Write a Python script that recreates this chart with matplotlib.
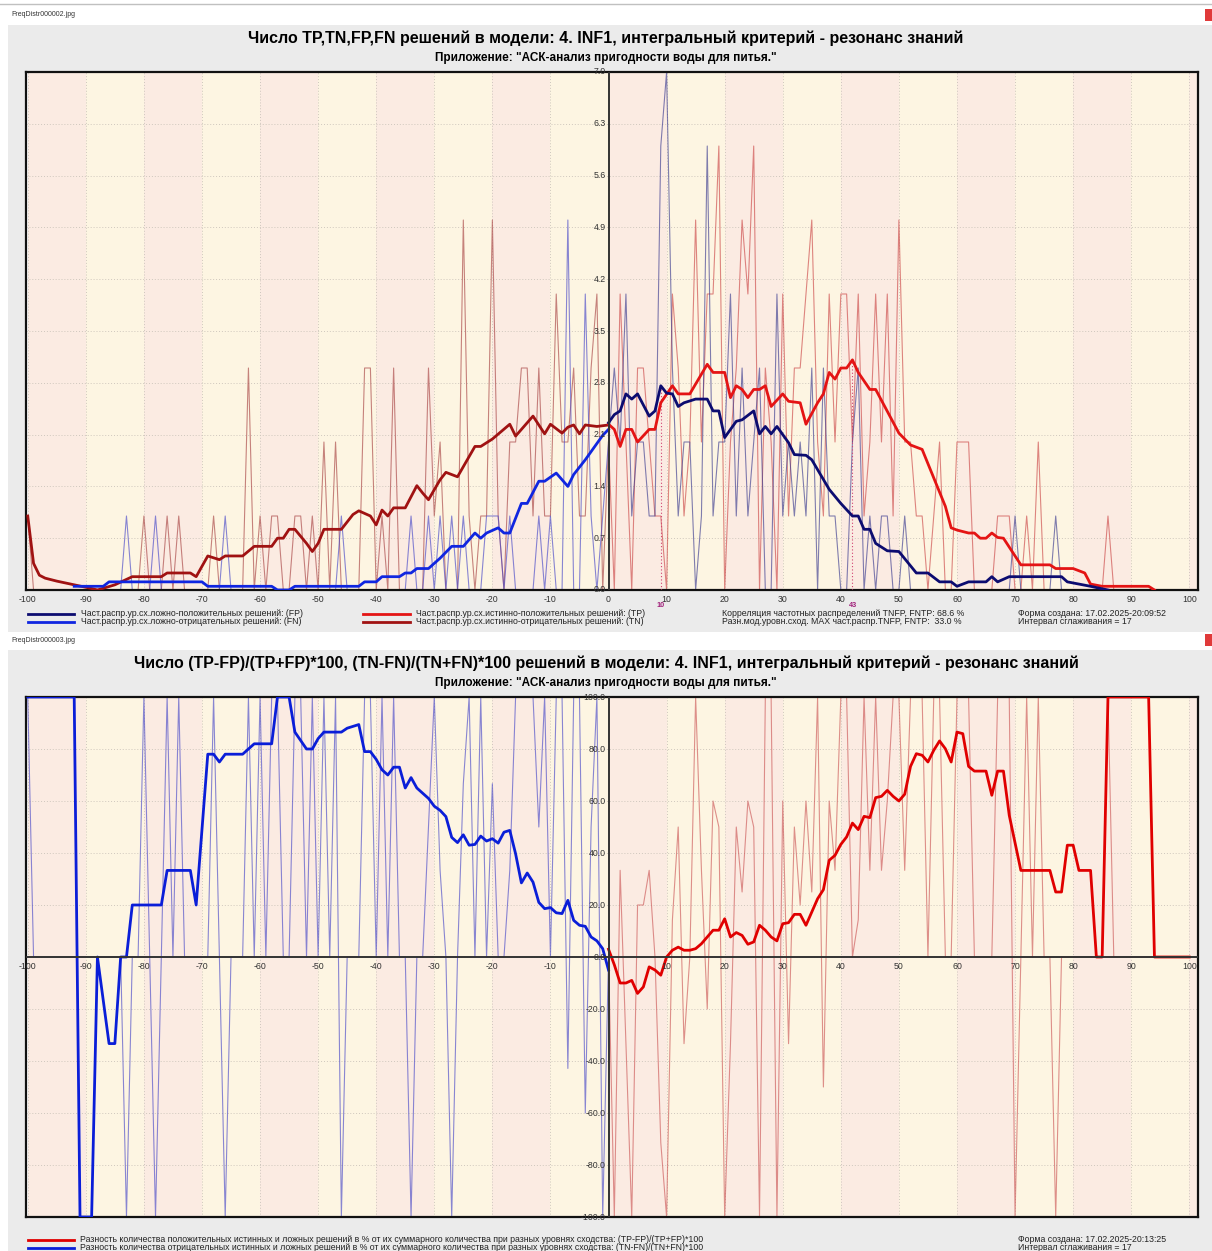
import numpy as np
import matplotlib
matplotlib.use("Agg")
import matplotlib.pyplot as plt
from matplotlib.patches import Rectangle
from matplotlib.lines import Line2D
from matplotlib import transforms

plt.rcParams["font.family"] = ["Liberation Sans", "DejaVu Sans"]

# ---------------------------------------------------------------- data
# raw frequency distributions (% of decisions) per similarity level
x_neg = np.arange(-100, 1)
x_pos = np.arange(0, 101)

tn_raw = [1, 0, 0, 0, 0, 0, 0, 0, 0, 0,
          0, 0, 0, 0, 0, 0, 0, 0, 0, 0,
          1, 0, 0, 0, 1, 0, 1, 0, 0, 0,
          0, 0, 1, 0, 0, 0, 0, 0, 3, 0,
          1, 0, 1, 1, 0, 0, 1, 1, 0, 1,
          0, 2, 0, 2, 0, 0, 0, 0, 3, 3,
          0, 1, 0, 3, 0, 0, 0, 0, 0, 3,
          1, 2, 0, 0, 0, 5, 1, 0, 1, 1,
          5, 1, 0, 2, 2, 3, 3, 1, 3, 1,
          1, 4, 2, 2, 3, 1, 1, 3, 4, 0,
          2]
fn_raw = [0, 0, 0, 0, 0, 0, 0, 0, 0, 0,
          0, 0, 0, 0, 0, 0, 0, 1, 0, 0,
          0, 0, 1, 0, 0, 0, 0, 0, 0, 0,
          0, 0, 0, 0, 1, 0, 0, 0, 0, 0,
          0, 0, 0, 0, 0, 0, 0, 0, 0, 0,
          0, 0, 0, 0, 1, 0, 0, 0, 0, 0,
          0, 0, 0, 0, 0, 0, 1, 0, 0, 1,
          0, 1, 0, 1, 0, 1, 0, 0, 0, 1,
          1, 1, 0, 1, 0, 0, 0, 0, 1, 0,
          1, 0, 0, 5, 0, 0, 4, 1, 0, 1,
          2]
tp_raw = [2, 0, 4, 2, 0, 3, 3, 2, 1, 1,
          0, 4, 3, 1, 2, 5, 2, 4, 4, 6,
          0, 2, 3, 5, 4, 6, 0, 3, 2, 0,
          4, 1, 3, 3, 4, 5, 2, 1, 4, 2,
          4, 4, 2, 4, 1, 2, 4, 2, 4, 1,
          5, 2, 2, 1, 1, 0, 1, 2, 0, 0,
          2, 2, 2, 0, 0, 0, 0, 1, 1, 1,
          0, 0, 1, 0, 2, 0, 0, 0, 0, 0,
          0, 0, 0, 0, 0, 0, 1, 0, 0, 0,
          0, 0, 0, 0, 0, 0, 0, 0, 0, 0,
          0]
fp_raw = [2, 3, 2, 4, 1, 2, 2, 1, 1, 6,
          7, 3, 1, 2, 2, 0, 1, 6, 1, 2,
          2, 4, 1, 3, 1, 2, 3, 0, 0, 4,
          1, 2, 1, 2, 1, 3, 0, 3, 1, 1,
          0, 0, 2, 3, 0, 1, 0, 1, 1, 0,
          0, 1, 0, 0, 0, 0, 0, 0, 0, 0,
          0, 0, 0, 0, 0, 0, 0, 0, 0, 0,
          1, 0, 0, 0, 0, 0, 0, 1, 0, 0,
          0, 0, 0, 0, 0, 0, 0, 0, 0, 0,
          0, 0, 0, 0, 0, 0, 0, 0, 0, 0,
          0]

# smoothed distributions (interval 17)
tn_s_x = [-100, -99, -98, -97, -95, -92, -89, -88, -85, -82, -77, -76, -72, -71, -69,
          -67, -66, -63, -61, -58, -57, -56, -55, -54, -52, -51, -50, -49, -46, -44,
          -43, -41, -40, -39, -38, -37, -35, -33, -32, -31, -29, -28, -26, -23, -22,
          -20, -17, -16, -13, -11, -10, -8, -7, -6, -5, -4, -2, 0]
tn_s_y = [1.0, 0.36, 0.2, 0.16, 0.12, 0.07, 0.02, 0.0, 0.07, 0.18, 0.18, 0.23, 0.23, 0.18, 0.46,
          0.41, 0.46, 0.46, 0.59, 0.59, 0.70, 0.70, 0.82, 0.82, 0.63, 0.52, 0.63, 0.82, 0.82, 1.02,
          1.07, 1.00, 0.88, 1.08, 1.00, 1.11, 1.11, 1.41, 1.31, 1.22, 1.49, 1.59, 1.53, 1.94, 1.94,
          2.04, 2.24, 2.08, 2.35, 2.11, 2.24, 2.12, 2.2, 2.23, 2.11, 2.23, 2.21, 2.23]
fn_s_x = [-92, -87, -86, -70, -69, -58, -57, -55, -54, -43, -42, -40, -39, -36, -35,
          -34, -33, -31, -29, -27, -25, -23, -22, -21, -19, -18, -17, -15, -14, -12,
          -11, -9, -7, -6, -4, -1, 0]
fn_s_y = [0.05, 0.05, 0.11, 0.11, 0.05, 0.05, 0.0, 0.0, 0.05, 0.05, 0.11, 0.11, 0.18, 0.18, 0.23,
          0.23, 0.29, 0.29, 0.43, 0.59, 0.59, 0.77, 0.70, 0.77, 0.84, 0.77, 0.77, 1.17, 1.17, 1.47,
          1.47, 1.58, 1.40, 1.56, 1.76, 2.09, 2.17]
tp_s_x = [0, 1, 2, 3, 4, 5, 7, 8, 9, 11, 12, 14, 17, 18, 20, 21, 22, 23, 24, 25, 26, 27, 28,
          30, 31, 33, 34, 36, 37, 38, 39, 40, 41, 42, 43, 45, 46, 50, 52, 54, 58, 59, 60, 62,
          63, 64, 65, 66, 67, 68, 71, 76, 77, 80, 82, 83, 85, 93, 94]
tp_s_y = [2.24, 2.17, 1.94, 2.17, 2.17, 2.0, 2.17, 2.17, 2.53, 2.76, 2.65, 2.65, 3.05, 2.94, 2.94,
          2.60, 2.76, 2.71, 2.60, 2.71, 2.71, 2.76, 2.48, 2.65, 2.55, 2.53, 2.24, 2.53, 2.65, 2.94,
          2.85, 3.0, 3.0, 3.11, 2.94, 2.71, 2.71, 2.12, 1.96, 1.90, 1.13, 0.84, 0.81, 0.77, 0.77,
          0.70, 0.70, 0.77, 0.71, 0.70, 0.34, 0.34, 0.29, 0.29, 0.23, 0.08, 0.05, 0.05, 0.0]
fp_s_x = [0, 1, 2, 3, 4, 5, 7, 8, 9, 10, 11, 12, 13, 15, 17, 18, 19, 20, 22, 23, 25, 26, 27,
          28, 29, 31, 32, 34, 35, 38, 40, 42, 43, 44, 45, 46, 48, 50, 53, 55, 57, 59, 60, 62,
          65, 66, 67, 69, 78, 79, 83, 86]
fp_s_y = [2.26, 2.37, 2.42, 2.65, 2.58, 2.65, 2.35, 2.42, 2.76, 2.66, 2.65, 2.48, 2.53, 2.58,
          2.58, 2.42, 2.42, 2.06, 2.28, 2.30, 2.42, 2.11, 2.21, 2.11, 2.21, 1.99, 1.83, 1.82, 1.76,
          1.36, 1.17, 1.00, 1.00, 0.82, 0.82, 0.63, 0.53, 0.52, 0.23, 0.23, 0.11, 0.11, 0.05, 0.11,
          0.11, 0.18, 0.11, 0.18, 0.18, 0.11, 0.05, 0.0]
mode_labels = ["10", "43"]

# smoothed differences, %
neg_s_x = [-100, -92, -91, -89, -88, -86, -85, -84, -83, -82, -77, -76, -72, -71, -69, -68,
           -67, -66, -63, -61, -58, -57, -55, -54, -52, -51, -50, -49, -46, -45, -43, -42,
           -41, -40, -39, -38, -37, -36, -35, -34, -33, -31, -30, -29, -28, -27, -26, -25,
           -24, -23, -22, -21, -20, -19, -18, -17, -16, -15, -14, -13, -12, -11, -10, -9,
           -8, -7, -6, -5, -4, -3, -2, -1, 0]
neg_s_y = [100, 100, -100, -100, 0, -33.3, -33.3, 0, 0, 20, 20, 33.3, 33.3, 20, 78, 78,
           75, 78, 78, 82, 82, 100, 100, 86.5, 80, 80, 84, 86.5, 86.5, 88, 89.4, 79,
           79, 76, 72, 70, 73, 73, 65, 69, 65, 61, 58, 56.4, 54, 46, 44, 47,
           43, 43.3, 46.5, 44.6, 45.5, 43.8, 48, 48.7, 39.7, 28.5, 32.3, 28.8, 21, 18.6, 19, 17,
           16.7, 21.8, 14.1, 12.2, 11.8, 7.7, 6.2, 3.2, -5]
pos_s_x = [0, 1, 2, 3, 4, 5, 6, 7, 8, 9, 10, 11, 12, 13, 14, 15, 16, 17, 18, 19, 20, 21, 22,
           23, 24, 25, 26, 27, 28, 29, 30, 31, 32, 33, 34, 35, 36, 37, 38, 39, 40, 41, 42, 43,
           44, 45, 46, 47, 48, 49, 50, 51, 52, 53, 54, 55, 56, 57, 58, 59, 60, 61, 62, 63, 65,
           66, 67, 68, 69, 71, 76, 77, 78, 79, 80, 81, 83, 84, 85, 86, 93, 94, 100]
pos_s_y = [3, -3, -10, -10, -9, -14, -11.5, -3.8, -5, -7, 0, 2.6, 3.8, 2.6, 2.6, 3.2, 5.1, 7.7,
           10.3, 10.3, 14.7, 7.7, 9.4, 8.3, 4.9, 5.8, 12.2, 10.3, 7.7, 6.2, 12.8, 13.2, 16.4,
           16.4, 12.2, 17.3, 22.4, 25.9, 37.2, 39.1, 43.3, 46.2, 51.5, 49, 54.1, 53.6, 61.3,
           61.8, 64.1, 61.8, 60, 62.6, 73.3, 78.2, 77.6, 75, 79.5, 83.1, 80.1, 75, 86.5, 85.9,
           73.3, 71.5, 71.5, 62.2, 71.5, 71.5, 54.5, 33.3, 33.3, 25, 25, 43, 43, 33.3, 33.3,
           0, 0, 100, 100, 0, 0]

top_title = "Число TP,TN,FP,FN решений в модели: 4. INF1, интегральный критерий - резонанс знаний"
bot_title = ("Число (TP-FP)/(TP+FP)*100, (TN-FN)/(TN+FN)*100 решений в модели: "
             "4. INF1, интегральный критерий - резонанс знаний")
subtitle = 'Приложение: "АСК-анализ пригодности воды для питья."'
top_ticks = [0.0, 0.7, 1.4, 2.1, 2.8, 3.5, 4.2, 4.9, 5.6, 6.3, 7.0]
bot_ticks = [-100, -80, -60, -40, -20, 0, 20, 40, 60, 80, 100]
x_ticks = list(range(-100, 101, 10))

# ---------------------------------------------------------------- colours
PINK, YELLOW, PANEL = "#fbebe2", "#fdf5e2", "#ebebeb"
NAVY, BLUE, RED, DRED = "#0c0c70", "#1026e0", "#e41414", "#a01212"
RAW_A = 0.65

W, H = 1212, 1251
fig = plt.figure(figsize=(W / 100, H / 100), dpi=100)
fig.patch.set_facecolor("white")


def fx(px):
    return px / W


def fy(py):
    return 1 - py / H


# window panels and captions
for y0, y1, name in [(25, 632, "FreqDistr000002.jpg"), (650, 1251, "FreqDistr000003.jpg")]:
    fig.add_artist(Rectangle((fx(8), fy(y1)), 1 - fx(8), fy(y0) - fy(y1),
                             transform=fig.transFigure, color=PANEL, lw=0, zorder=-5))
    fig.text(fx(11), fy(y0 - 10), name, fontsize=5, va="center", color="#333333")
    fig.add_artist(Rectangle((fx(1205), fy(y0 - 4)), fx(7), 12 / H,
                             transform=fig.transFigure, color="#e03a3a", lw=0))
fig.add_artist(Line2D([0, 1], [fy(4), fy(4)], transform=fig.transFigure, color="#c0c0c0", lw=1))

fig.text(0.5, fy(38), top_title, ha="center", va="center", fontsize=11.5, fontweight="bold")
fig.text(0.5, fy(58), subtitle, ha="center", va="center", fontsize=8.5, fontweight="bold")
fig.text(0.5, fy(663), bot_title, ha="center", va="center", fontsize=11.5, fontweight="bold")
fig.text(0.5, fy(683), subtitle, ha="center", va="center", fontsize=8.5, fontweight="bold")

ax1 = fig.add_axes([fx(26), fy(590), fx(1198) - fx(26), fy(72) - fy(590)])
ax2 = fig.add_axes([fx(26), fy(1217), fx(1198) - fx(26), fy(697) - fy(1217)])


def setup(ax, ylo, yhi, yt):
    ax.set_xlim(-100.3, 101.5)
    ax.set_ylim(ylo, yhi)
    for s in range(-100, 101, 10):
        ax.axvspan(s, s + 10, color=PINK if (s // 10) % 2 == 0 else YELLOW, lw=0, zorder=0)
    for xv in x_ticks:
        ax.axvline(xv, color="#cfc7bd", lw=0.7, ls=(0, (1, 2)), zorder=1)
    for yv in yt:
        ax.axhline(yv, color="#cfc7bd", lw=0.7, ls=(0, (1, 2)), zorder=1)
    ax.axvline(0, color="#333333", lw=1.4, zorder=6)
    ax.set_xticks([])
    ax.set_yticks([])
    for sp in ax.spines.values():
        sp.set_linewidth(1.6)
        sp.set_color("#111111")
    lab = transforms.offset_copy(ax.transData, fig=fig, x=-2, y=0, units="points")
    for yv in yt:
        ax.text(0, yv, f"{yv:.1f}", transform=lab, ha="right", va="center",
                fontsize=6.3, color="#333333", zorder=7)


# ---------------------------------------------------------------- top chart
setup(ax1, 0, 7.0, top_ticks)
ax1.plot(x_neg, tn_raw, color="#a84444", lw=0.8, alpha=RAW_A, zorder=2)
ax1.plot(x_neg, fn_raw, color="#4848c8", lw=0.8, alpha=RAW_A, zorder=2)
ax1.plot(x_pos, tp_raw, color="#cc4848", lw=0.8, alpha=RAW_A, zorder=2)
ax1.plot(x_pos, fp_raw, color="#3c3c90", lw=0.8, alpha=RAW_A, zorder=2)
ax1.plot(tn_s_x, tn_s_y, color=DRED, lw=2, zorder=4)
ax1.plot(fn_s_x, fn_s_y, color=BLUE, lw=2, zorder=4)
ax1.plot(tp_s_x, tp_s_y, color=RED, lw=2, zorder=4)
ax1.plot(fp_s_x, fp_s_y, color=NAVY, lw=2, zorder=4)

below = transforms.blended_transform_factory(ax1.transData, ax1.transAxes)
for xv in x_ticks:
    ax1.text(xv, 0, str(xv), transform=transforms.offset_copy(below, fig=fig, y=-7, units="points"),
             ha="center", va="center", fontsize=6.3, color="#333333")
for sx, sy, lab in [(fp_s_x, fp_s_y, mode_labels[0]), (tp_s_x, tp_s_y, mode_labels[1])]:
    i = int(np.argmax(sy))
    ax1.vlines(sx[i], 0, sy[i], color="#d04070", lw=0.8, ls=(0, (1, 2)), zorder=3)
    ax1.text(sx[i], 0, lab, transform=transforms.offset_copy(below, fig=fig, y=-11.5, units="points"),
             ha="center", va="center", fontsize=5.2, color="#a0207a", fontweight="bold")

# ---------------------------------------------------------------- bottom chart
tn = np.array(tn_raw, float)
fn = np.array(fn_raw, float)
tp = np.array(tp_raw, float)
fp = np.array(fp_raw, float)
neg_raw = np.where(tn + fn > 0, (tn - fn) / np.maximum(tn + fn, 1e-9) * 100, 0)
pos_raw = np.where(tp + fp > 0, (tp - fp) / np.maximum(tp + fp, 1e-9) * 100, 0)

setup(ax2, -100, 100, bot_ticks)
ax2.axhline(0, color="#333333", lw=1.4, zorder=6)
ax2.plot(x_neg, neg_raw, color="#4a4ac8", lw=0.8, alpha=RAW_A, zorder=2)
ax2.plot(x_pos, pos_raw, color="#cc5858", lw=0.8, alpha=RAW_A, zorder=2)
ax2.plot(neg_s_x, neg_s_y, color="#0a1ed8", lw=2, zorder=4)
ax2.plot(pos_s_x, pos_s_y, color="#e00000", lw=2, zorder=4)
lab0 = transforms.offset_copy(ax2.transData, fig=fig, y=-7, units="points")
for xv in x_ticks:
    if xv != 0:
        ax2.text(xv, 0, str(xv), transform=lab0, ha="center", va="center",
                 fontsize=6.3, color="#333333", zorder=7)

# ---------------------------------------------------------------- legends
LEG = 6.3


def legend_line(x0, x1, py, color):
    fig.add_artist(Line2D([fx(x0), fx(x1)], [fy(py), fy(py)], transform=fig.transFigure,
                          color=color, lw=2))


def legend_text(px, py, s):
    fig.text(fx(px), fy(py), s, fontsize=LEG, va="center", color="#222222")


legend_line(28, 74, 614, NAVY)
legend_line(28, 74, 622, BLUE)
legend_line(363, 410, 614, RED)
legend_line(363, 410, 622, DRED)
legend_text(81, 614, "Част.распр.ур.сх.ложно-положительных решений: (FP)")
legend_text(81, 622, "Част.распр.ур.сх.ложно-отрицательных решений: (FN)")
legend_text(416, 614, "Част.распр.ур.сх.истинно-положительных решений: (TP)")
legend_text(416, 622, "Част.распр.ур.сх.истинно-отрицательных решений: (TN)")
legend_text(722, 614, "Корреляция частотных распределений TNFP, FNTP: 68.6 %")
legend_text(722, 622, "Разн.мод.уровн.сход. MAX част.распр.TNFP, FNTP:  33.0 %")
legend_text(1018, 614, "Форма создана: 17.02.2025-20:09:52")
legend_text(1018, 622, "Интервал сглаживания = 17")

legend_line(28, 74, 1240, "#e00000")
legend_line(28, 74, 1248, "#0a1ed8")
legend_text(80, 1240, "Разность количества положительных истинных и ложных решений в % от их "
            "суммарного количества при разных уровнях сходства: (TP-FP)/(TP+FP)*100")
legend_text(80, 1248, "Разность количества отрицательных истинных и ложных решений в % от их "
            "суммарного количества при разных уровнях сходства: (TN-FN)/(TN+FN)*100")
legend_text(1018, 1240, "Форма создана: 17.02.2025-20:13:25")
legend_text(1018, 1248, "Интервал сглаживания = 17")

fig.savefig("out.png", dpi=100)
